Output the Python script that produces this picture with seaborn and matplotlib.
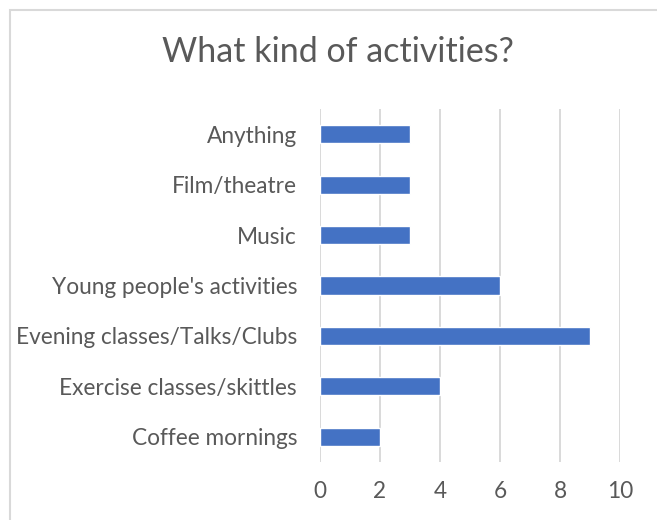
import matplotlib
matplotlib.use("Agg")
import matplotlib.pyplot as plt
import matplotlib.patches as mpatches
import seaborn as sns
import pandas as pd

categories = [
    "Anything",
    "Film/theatre",
    "Music",
    "Young people's activities",
    "Evening classes/Talks/Clubs",
    "Exercise classes/skittles",
    "Coffee mornings",
]
counts = [3, 3, 3, 6, 9, 4, 2]
x_ticks = [0, 2, 4, 6, 8, 10]

df = pd.DataFrame({"activity": categories, "count": counts})

sns.set_theme(style="white")
plt.rcParams["font.family"] = ["Lato", "DejaVu Sans"]

text_grey = "#595959"
grid_grey = "#D9D9D9"

fig = plt.figure(figsize=(6.57, 5.2), dpi=100)
ax = fig.add_axes([320 / 657, 1 - 462 / 520, 300 / 657, 353 / 520])

sns.barplot(data=df, x="count", y="activity", orient="h", color="#4472C4",
            saturation=1, width=0.357, ax=ax, zorder=3)

ax.set_xlim(0, 10)
ax.set_ylim(6.5, -0.5)
ax.set_xticks(x_ticks)
ax.set_xticklabels([str(t) for t in x_ticks])
ax.xaxis.grid(True, color=grid_grey, linewidth=1.4, zorder=0)
ax.yaxis.grid(False)
for s in ax.spines.values():
    s.set_visible(False)
ax.tick_params(axis="both", length=0, labelsize=16.3, colors=text_grey)
ax.tick_params(axis="x", pad=14)
ax.tick_params(axis="y", pad=16.5)
ax.set_xlabel("")
ax.set_ylabel("")

fig.text(338 / 657, 1 - 52 / 520, "What kind of activities?", ha="center",
         va="center", fontsize=24.5, color=text_grey)

fig.patches.append(mpatches.Rectangle((10 / 657, -0.1), 1.0, 1 - 10 / 520 + 0.1,
                                      transform=fig.transFigure, fill=False,
                                      edgecolor=grid_grey, linewidth=1.5))

fig.savefig("out.png", dpi=100)
